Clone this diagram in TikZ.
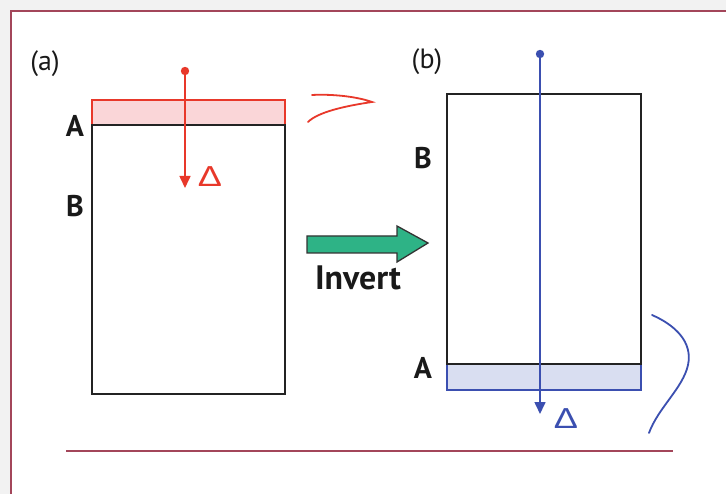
\documentclass[tikz,border=0pt]{standalone}
\usepackage{fontspec}
\setmainfont{PT Sans}
\newfontfamily\greekfont{Liberation Sans}
\usetikzlibrary{arrows.meta}
\definecolor{framered}{HTML}{A3465A}
\definecolor{myred}{HTML}{E8382A}
\definecolor{mypink}{HTML}{FAD6D8}
\definecolor{myblue}{HTML}{3B4FB0}
\definecolor{mylblue}{HTML}{D9DEF1}
\definecolor{mygreen}{HTML}{2EB386}
\definecolor{boxline}{HTML}{232323}
\tikzset{
  blockbox/.style={draw=boxline, line width=2bp},
  lbl/.style={font=\fontsize{30}{30}\selectfont\bfseries, text=black!90, inner sep=0pt},
  panel/.style={font=\fontsize{28}{28}\selectfont, text=black!90, inner sep=0pt},
  delta/.style={font=\greekfont\fontsize{29}{29}\selectfont, inner sep=0pt, xscale=1.25},
  redline/.style={draw=myred, line width=1.6bp},
  blueline/.style={draw=myblue, line width=1.6bp},
}
\begin{document}
\begin{tikzpicture}[x=1bp,y=-1bp]
\useasboundingbox (0,0) rectangle (726,494);
% background
\fill[black!5] (0,0) rectangle (726,494);
\fill[white] (11,11) rectangle (726,494);
\draw[framered, line width=2.2bp] (11,494) -- (11,11) -- (726,11);
\draw[framered, line width=2.2bp] (66,451) -- (673,451);

% ---- panel (a)
\node[panel] (pa) at (45,64) {(a)};
\fill[mypink] (92,100) rectangle (285,125);
\draw[myred, line width=1.6bp] (92,125) -- (92,100) -- (285,100) -- (285,125);
\draw[blockbox] (92,125) rectangle (285,394);
\node[lbl] (la) at (75,126) {A};
\node[lbl] (lb) at (75,206) {B};
\fill[myred] (185,71) circle (4.2bp);
\coordinate (adot) at (185,71);
\coordinate (atip) at (185,188);
\draw[redline, -{Triangle[width=11bp,length=12bp]}] (adot) -- (atip);
\node[delta, text=myred] (da) at (210,177) {Δ};
\draw[redline, line width=1.8bp, line join=miter, line cap=round]
   (308,122) .. controls (318,112) and (345,106) .. (372,102)
   .. controls (355,96) and (330,94) .. (312,95);

% ---- arrow Invert
\draw[fill=mygreen, draw=black!80, line width=1.3bp]
  (307,236) -- (397,236) -- (397,226) -- (428,243) -- (397,262) -- (397,253) -- (307,253) -- cycle;
\node[font=\fontsize{34}{34}\selectfont\bfseries, text=black!90, inner sep=0pt] (inv) at (358,278) {Invert};

% ---- panel (b)
\node[panel] (pb) at (427,62) {(b)};
\fill[mylblue] (447,364) rectangle (641,390);
\draw[myblue, line width=1.6bp] (447,364) -- (447,390) -- (641,390) -- (641,364);
\draw[blockbox] (447,94) rectangle (641,364);
\node[lbl] (lb2) at (423,158) {B};
\node[lbl] (la2) at (423,368) {A};
\fill[myblue] (540,54) circle (4.2bp);
\coordinate (bdot) at (540,54);
\coordinate (btip) at (540,414);
\draw[blueline, -{Triangle[width=11bp,length=12bp]}] (bdot) -- (btip);
\node[delta, text=myblue] (db) at (566,419) {Δ};
\draw[blueline, line width=1.8bp, line cap=round] (652,315) .. controls (675,325) and (693,342) .. (688,365)
   .. controls (683,388) and (658,408) .. (649,433);
\end{tikzpicture}
\end{document}
